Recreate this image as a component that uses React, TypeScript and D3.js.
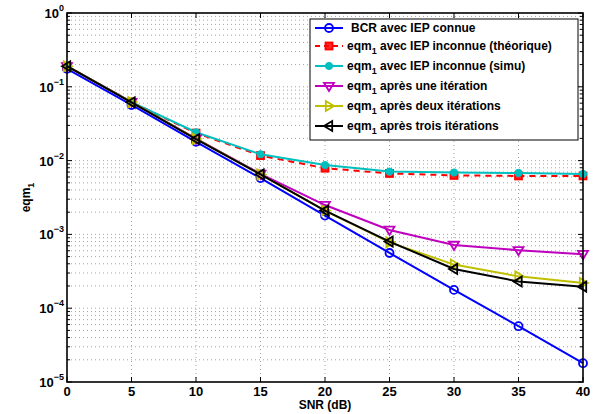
import React from "react";
import * as d3 from "d3";

const snr = [0, 5, 10, 15, 20, 25, 30, 35, 40];
const bcr = [0.175, 0.0567, 0.018, 0.0058, 0.0018, 0.00056, 0.000177, 0.000057, 0.000018];
const eqmTheo = [0.19, 0.062, 0.0236, 0.0117, 0.0079, 0.0067, 0.0063, 0.0062, 0.0062];
const eqmSimu = [0.19, 0.062, 0.0242, 0.0122, 0.0087, 0.0071, 0.0069, 0.0068, 0.0066];
const eqmIter1 = [0.19, 0.062, 0.0198, 0.0066, 0.0025, 0.00115, 0.00072, 0.00061, 0.00054];
const eqmIter2 = [0.19, 0.062, 0.0197, 0.0065, 0.0021, 0.00078, 0.00039, 0.00027, 0.00022];
const eqmIter3 = [0.19, 0.0617, 0.0196, 0.0065, 0.0021, 0.0008, 0.00034, 0.00023, 0.000196];
const xTicks = [0, 5, 10, 15, 20, 25, 30, 35, 40];
const yExponents = [0, -1, -2, -3, -4, -5];

const seriesNames = [
  "BCR avec IEP connue",
  "avec IEP inconnue (théorique)",
  "avec IEP inconnue (simu)",
  "après une itération",
  "après deux itérations",
  "après trois itérations",
];

type Marker = "circle" | "square" | "dot" | "down" | "right" | "left";
const seriesStyle: { color: string; marker: Marker; dash?: string; eqm: boolean }[] = [
  { color: "#0000ff", marker: "circle", eqm: false },
  { color: "#ff0000", marker: "square", dash: "6,5", eqm: true },
  { color: "#00bfbf", marker: "dot", eqm: true },
  { color: "#bf00bf", marker: "down", eqm: true },
  { color: "#bfbf00", marker: "right", eqm: true },
  { color: "#000000", marker: "left", eqm: true },
];
const seriesData = [bcr, eqmTheo, eqmSimu, eqmIter1, eqmIter2, eqmIter3];

const W = 600, H = 414;
const L = 67, R = 583, T = 13, B = 382;
const FONT = "'Liberation Sans', Arial, Helvetica, sans-serif";

function MarkerShape({ m, x, y, color }: { m: Marker; x: number; y: number; color: string }) {
  const common = { stroke: color, strokeWidth: 1.8 };
  switch (m) {
    case "circle":
      return <circle cx={x} cy={y} r={4} fill="none" {...common} />;
    case "square":
      return <rect x={x - 3.5} y={y - 3.5} width={7} height={7} fill={color} fillOpacity={0.85} {...common} />;
    case "dot":
      return <circle cx={x} cy={y} r={3.6} fill={color} stroke={color} strokeWidth={1} />;
    case "down":
      return <path d={`M${x - 5},${y - 3.2}L${x + 5},${y - 3.2}L${x},${y + 5}Z`} fill="none" {...common} />;
    case "right":
      return <path d={`M${x - 3.2},${y - 5}L${x - 3.2},${y + 5}L${x + 5},${y}Z`} fill="none" {...common} />;
    case "left":
      return <path d={`M${x + 3.2},${y - 5}L${x + 3.2},${y + 5}L${x - 5},${y}Z`} fill="none" {...common} />;
  }
}

export default function App() {
  const x = d3.scaleLinear().domain([0, 40]).range([L, R]);
  const y = d3.scaleLog().domain([1e-5, 1]).range([B, T]);
  const line = d3
    .line<number>()
    .x((_, i) => x(snr[i]))
    .y((d) => y(d));

  const minorY: number[] = [];
  for (let e = -5; e < 0; e++) for (let k = 2; k <= 9; k++) minorY.push(k * Math.pow(10, e));
  const majorY = yExponents.map((e) => Math.pow(10, e));

  const grid = "#8c8c8c";
  const legX = 310, legY = 19, legW = 268, legH = 121;
  const rowY = [28, 46, 66, 86, 106, 126];

  return (
    <svg width={W} height={H} style={{ position: "absolute", left: 0, top: 0, background: "#fff" }} fontFamily={FONT}>
      <rect x={0} y={0} width={W} height={H} fill="#fff" />
      {/* grid */}
      {xTicks.slice(1, -1).map((t) => (
        <line key={"gx" + t} x1={x(t)} x2={x(t)} y1={T} y2={B} stroke={grid} strokeWidth={0.8} strokeDasharray="1,3" />
      ))}
      {[...minorY, ...majorY.slice(1, -1)].map((v, i) => (
        <line key={"gy" + i} x1={L} x2={R} y1={y(v)} y2={y(v)} stroke={grid} strokeWidth={0.8} strokeDasharray="1,3" />
      ))}
      {/* ticks */}
      {xTicks.map((t) => (
        <g key={"tx" + t}>
          <line x1={x(t)} x2={x(t)} y1={B} y2={B - 5} stroke="#000" strokeWidth={1} />
          <line x1={x(t)} x2={x(t)} y1={T} y2={T + 5} stroke="#000" strokeWidth={1} />
        </g>
      ))}
      {majorY.map((v, i) => (
        <g key={"ty" + i}>
          <line x1={L} x2={L + 5} y1={y(v)} y2={y(v)} stroke="#000" strokeWidth={1} />
          <line x1={R} x2={R - 5} y1={y(v)} y2={y(v)} stroke="#000" strokeWidth={1} />
        </g>
      ))}
      {minorY.map((v, i) => (
        <g key={"tmy" + i}>
          <line x1={L} x2={L + 3} y1={y(v)} y2={y(v)} stroke="#000" strokeWidth={1} />
          <line x1={R} x2={R - 3} y1={y(v)} y2={y(v)} stroke="#000" strokeWidth={1} />
        </g>
      ))}
      {/* series */}
      {seriesData.map((data, si) => {
        const st = seriesStyle[si];
        return (
          <g key={"s" + si}>
            <path d={line(data) || ""} fill="none" stroke={st.color} strokeWidth={2} strokeDasharray={st.dash} />
            {data.map((v, i) => (
              <MarkerShape key={i} m={st.marker} x={x(snr[i])} y={y(v)} color={st.color} />
            ))}
          </g>
        );
      })}
      {/* axes box */}
      <rect x={L} y={T} width={R - L} height={B - T} fill="none" stroke="#000" strokeWidth={1.6} />
      {/* tick labels */}
      {xTicks.map((t) => (
        <text key={"lx" + t} x={x(t)} y={396} textAnchor="middle" fontSize={13} fontWeight="bold">
          {t}
        </text>
      ))}
      {yExponents.map((e) => (
        <text key={"ly" + e} x={64} y={y(Math.pow(10, e)) + 5} textAnchor="end" fontSize={13} fontWeight="bold">
          10
          <tspan fontSize={9} dy={-7}>
            {e === 0 ? "0" : "\u2212" + Math.abs(e)}
          </tspan>
        </text>
      ))}
      <text x={(L + R) / 2} y={409} textAnchor="middle" fontSize={12} fontWeight="bold">
        SNR (dB)
      </text>
      <text transform={`translate(30,${(T + B) / 2}) rotate(-90)`} textAnchor="middle" fontSize={12} fontWeight="bold">
        eqm<tspan fontSize={9} dy={4}>1</tspan>
      </text>
      {/* legend */}
      <rect x={legX} y={legY} width={legW} height={legH} fill="#fff" stroke="#000" strokeWidth={1} />
      {seriesNames.map((name, i) => {
        const st = seriesStyle[i];
        const ry = rowY[i];
        return (
          <g key={"lg" + i}>
            <line x1={315} x2={343} y1={ry} y2={ry} stroke={st.color} strokeWidth={2} strokeDasharray={st.dash ? "5,4" : undefined} />
            <MarkerShape m={st.marker} x={329} y={ry} color={st.color} />
            {st.eqm ? (
              <text x={347} y={ry + 4} fontSize={12} fontWeight="bold">
                eqm<tspan fontSize={9} dy={4}>1</tspan>
                <tspan dy={-4}> {name}</tspan>
              </text>
            ) : (
              <text x={351} y={ry + 4} fontSize={12} fontWeight="bold">
                {name}
              </text>
            )}
          </g>
        );
      })}
    </svg>
  );
}
